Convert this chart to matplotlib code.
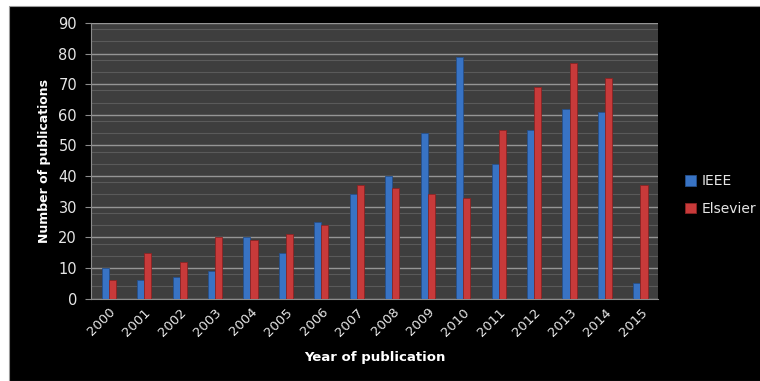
import numpy as np
import matplotlib
matplotlib.use("Agg")
import matplotlib.pyplot as plt
from matplotlib.patches import Rectangle

years = ["2000", "2001", "2002", "2003", "2004", "2005", "2006", "2007",
         "2008", "2009", "2010", "2011", "2012", "2013", "2014", "2015"]
ieee = [10, 6, 7, 9, 20, 15, 25, 34, 40, 54, 79, 44, 55, 62, 61, 5]
elsevier = [6, 15, 12, 20, 19, 21, 24, 37, 36, 34, 33, 55, 69, 77, 72, 37]

fig = plt.figure(figsize=(7.6, 3.81), dpi=100, facecolor="white")
# black chart area with thin white margin at top-left
fig.patches.append(Rectangle((9 / 760, 0), 1, 1 - 6 / 381, transform=fig.transFigure,
                             facecolor="black", edgecolor="#9a9a9a", linewidth=0.8, zorder=-10))

ax = fig.add_axes([0.1197, 0.216, 0.866 - 0.1197, 0.940 - 0.216])
ax.set_facecolor("#3e3e3e")

x = np.arange(len(years))
w = 0.2
ax.bar(x - w / 2, ieee, w, color="#3873c4", edgecolor="#254f8a", linewidth=0.6, label="IEEE", zorder=3)
ax.bar(x + w / 2, elsevier, w, color="#c83a3a", edgecolor="#8a2424", linewidth=0.6, label="Elsevier", zorder=3)

ax.set_xlim(-0.5, len(years) - 0.5)
ax.set_ylim(0, 90)
ax.set_yticks(range(0, 91, 10))
minor = [v + d for v in range(0, 90, 10) for d in (4, 8)]
ax.set_yticks(minor, minor=True)
ax.grid(axis="y", which="major", color="#959595", linewidth=1.0, zorder=1)
ax.grid(axis="y", which="minor", color="#5a5a5a", linewidth=0.8, zorder=1)
ax.tick_params(axis="y", which="minor", length=0)
ax.tick_params(axis="y", which="major", colors="#8c8c8c", labelcolor="#e6e6e6",
               labelsize=10.5, length=4, pad=6)
ax.set_xticks(x)
ax.set_xticklabels(years, rotation=45, ha="right", rotation_mode="anchor")
ax.tick_params(axis="x", length=0, labelcolor="#e6e6e6", labelsize=9.5, pad=5)

for s in ["top", "right"]:
    ax.spines[s].set_visible(False)
ax.spines["left"].set_color("#8c8c8c")
ax.spines["bottom"].set_color("#8c8c8c")

ax.set_xlabel("Year of publication", color="white", fontsize=9.5, fontweight="bold", labelpad=9)
ax.set_ylabel("Number of publications", color="white", fontsize=9, fontweight="bold", labelpad=5)

leg = ax.legend(loc="center left", bbox_to_anchor=(1.025, 0.376), frameon=False,
                fontsize=10, handlelength=0.8, handleheight=0.8, labelspacing=1.0,
                handletextpad=0.4)
for t in leg.get_texts():
    t.set_color("#e6e6e6")

fig.savefig("out.png", dpi=100, facecolor=fig.get_facecolor())
